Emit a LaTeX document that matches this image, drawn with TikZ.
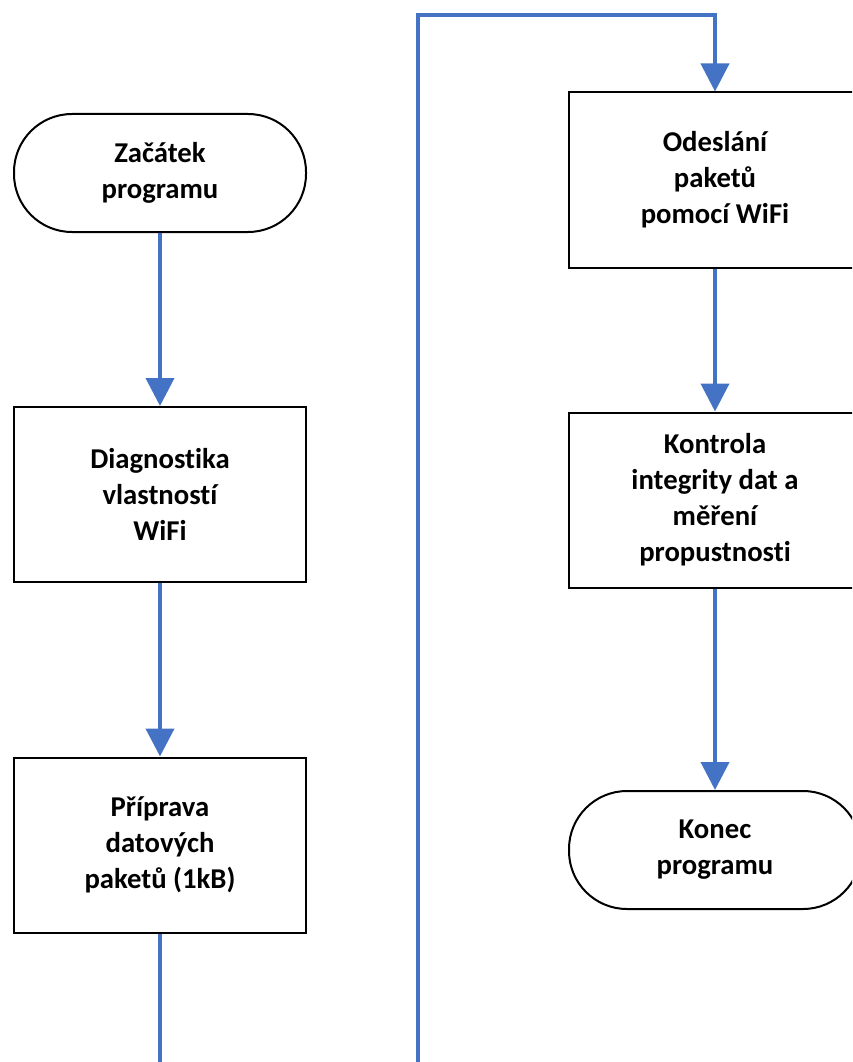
\documentclass[tikz,border=0pt]{standalone}
\usepackage{fontspec}
\setmainfont[Ligatures=NoCommon]{Carlito}
\usetikzlibrary{arrows.meta}
\definecolor{flowblue}{HTML}{4472C4}
\tikzset{
  procbox/.style={draw=black, line width=2pt, fill=white, minimum width=292pt, minimum height=175pt, align=center, inner sep=0pt, font=\fontsize{28.7}{36}\selectfont\bfseries},
  termbox/.style={draw=black, line width=2pt, fill=white, rounded corners=58pt, minimum width=292pt, minimum height=118pt, align=center, inner sep=0pt, font=\fontsize{28.7}{36}\selectfont\bfseries},
  flow/.style={draw=flowblue, line width=4pt, -{Triangle[length=28pt,width=28pt]}},
  flowline/.style={draw=flowblue, line width=4pt}
}
\begin{document}
\begin{tikzpicture}[x=1pt,y=-1pt]
\useasboundingbox (0,0) rectangle (852,1062);
\clip (0,0) rectangle (852,1062);
\node[termbox] (start) at (160,173) {Začátek\\programu};
\node[procbox] (b1) at (160,494.5) {Diagnostika\\vlastností\\WiFi};
\node[procbox] (b2) at (160,845) {Příprava\\datových\\paketů (1kB)};
\node[procbox] (b3) at (715,180) {Odeslání\\paketů\\pomocí WiFi};
\node[procbox] (b4) at (715,500) {Kontrola\\integrity dat a\\měření\\propustnosti};
\node[termbox] (end) at (715,850) {Konec\\programu};
\coordinate (c1) at (160,1064);
\coordinate (c2) at (418,1064);
\coordinate (c3) at (418,15);
\draw[flow] (start) -- (b1);
\draw[flow] (b1) -- (b2);
\draw[flowline] (b2) -- (c1);
\draw[flow] (c2) -- (c3) -| (b3);
\draw[flow] (b3) -- (b4);
\draw[flow] (b4) -- (end);
\end{tikzpicture}
\end{document}
